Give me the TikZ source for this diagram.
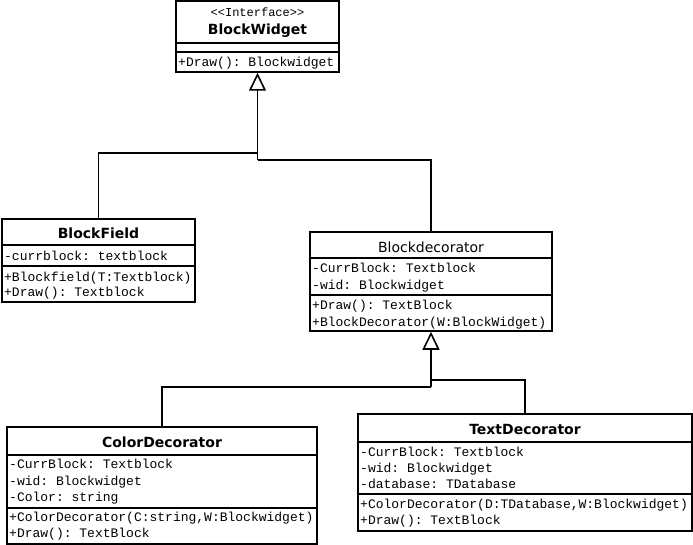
\documentclass[tikz,border=0pt]{standalone}
\usepackage{fontspec}
\setmainfont{DejaVu Sans}
\setmonofont{Liberation Mono}
\usetikzlibrary{arrows.meta}

\tikzset{
  classbox/.style={draw, line width=1.5pt, inner sep=0pt},
  classname/.style={font=\fontsize{14}{16}\selectfont\bfseries, inner sep=0pt},
  plainname/.style={font=\fontsize{14}{16}\selectfont, inner sep=0pt},
  stereo/.style={font=\fontsize{12}{14}\selectfont\ttfamily, inner sep=0pt},
  member/.style={font=\fontsize{13}{15}\selectfont\ttfamily, anchor=west, inner sep=0pt, text height=10pt, text depth=1pt},
  sepline/.style={line width=1.5pt},
  link/.style={line width=1.6pt},
  inherit/.style={line width=1.6pt, -{Triangle[open, length=18pt, width=17pt]}}
}

\begin{document}
\begin{tikzpicture}[x=1pt, y=-1pt]

    \useasboundingbox (0,0) rectangle (693,545);

    % Interface at the top
    \node[classbox, minimum width=163pt, minimum height=71pt] (widget) at (257.5,36.5) {};
    \node[stereo] (widget-stereo) at (257.5,12) {{<}{<}Interface{>}{>}};
    \node[classname] (widget-name) at (257.5,31) {BlockWidget};
    \draw[sepline] (widget.west |- 0,43) -- (widget.east |- 0,43);
    \draw[sepline] (widget.west |- 0,52) -- (widget.east |- 0,52);
    \node[member] (widget-m1) at (178,62) {+Draw(): Blockwidget};

    % Concrete component
    \node[classbox, minimum width=193pt, minimum height=83pt] (field) at (98.5,260.5) {};
    \node[classname] (field-name) at (98.5,233) {BlockField};
    \draw[sepline] (field.west |- 0,245) -- (field.east |- 0,245);
    \node[member] (field-a1) at (4,256) {-currblock: textblock};
    \draw[sepline] (field.west |- 0,266) -- (field.east |- 0,266);
    \node[member] (field-m1) at (4,277) {+Blockfield(T:Textblock)};
    \node[member] (field-m2) at (4,292) {+Draw(): Textblock};

    % Base decorator
    \node[classbox, minimum width=242pt, minimum height=99pt] (decorator) at (431,281.5) {};
    \node[plainname] (decorator-name) at (431,247) {Blockdecorator};
    \draw[sepline] (decorator.west |- 0,258) -- (decorator.east |- 0,258);
    \node[member] (decorator-a1) at (312,268) {-CurrBlock: Textblock};
    \node[member] (decorator-a2) at (312,285) {-wid: Blockwidget};
    \draw[sepline] (decorator.west |- 0,295) -- (decorator.east |- 0,295);
    \node[member] (decorator-m1) at (312,305) {+Draw(): TextBlock};
    \node[member] (decorator-m2) at (312,322) {+BlockDecorator(W:BlockWidget)};

    % Colour decorator
    \node[classbox, minimum width=310pt, minimum height=117pt] (colordec) at (162,485.5) {};
    \node[classname] (colordec-name) at (162,442) {ColorDecorator};
    \draw[sepline] (colordec.west |- 0,455) -- (colordec.east |- 0,455);
    \node[member] (colordec-a1) at (9,464) {-CurrBlock: Textblock};
    \node[member] (colordec-a2) at (9,481) {-wid: Blockwidget};
    \node[member] (colordec-a3) at (9,497) {-Color: string};
    \draw[sepline] (colordec.west |- 0,508) -- (colordec.east |- 0,508);
    \node[member] (colordec-m1) at (9,517) {+ColorDecorator(C:string,W:Blockwidget)};
    \node[member] (colordec-m2) at (9,533) {+Draw(): TextBlock};

    % Text decorator
    \node[classbox, minimum width=334pt, minimum height=117pt] (textdec) at (525,472.5) {};
    \node[classname] (textdec-name) at (525,429) {TextDecorator};
    \draw[sepline] (textdec.west |- 0,442) -- (textdec.east |- 0,442);
    \node[member] (textdec-a1) at (360,452) {-CurrBlock: Textblock};
    \node[member] (textdec-a2) at (360,468) {-wid: Blockwidget};
    \node[member] (textdec-a3) at (360,484) {-database: TDatabase};
    \draw[sepline] (textdec.west |- 0,494) -- (textdec.east |- 0,494);
    \node[member] (textdec-m1) at (360,504) {+ColorDecorator(D:TDatabase,W:Blockwidget)};
    \node[member] (textdec-m2) at (360,520) {+Draw(): TextBlock};

    % Junctions of the inheritance lines
    \coordinate (j1) at (257.5,153);
    \coordinate (j2) at (257.5,160);
    \coordinate (k1) at (431,380);
    \coordinate (k2) at (431,387);

    % Inheritance from BlockWidget
    \draw[inherit] (j2) -- (widget.south);
    \draw[link] (field.north) |- (j1);
    \draw[link] (decorator.north) |- (j2);

    % Inheritance from Blockdecorator
    \draw[inherit] (k2) -- (decorator.south);
    \draw[link] (colordec.north) |- (k2);
    \draw[link] (textdec.north) |- (k1);

\end{tikzpicture}
\end{document}
